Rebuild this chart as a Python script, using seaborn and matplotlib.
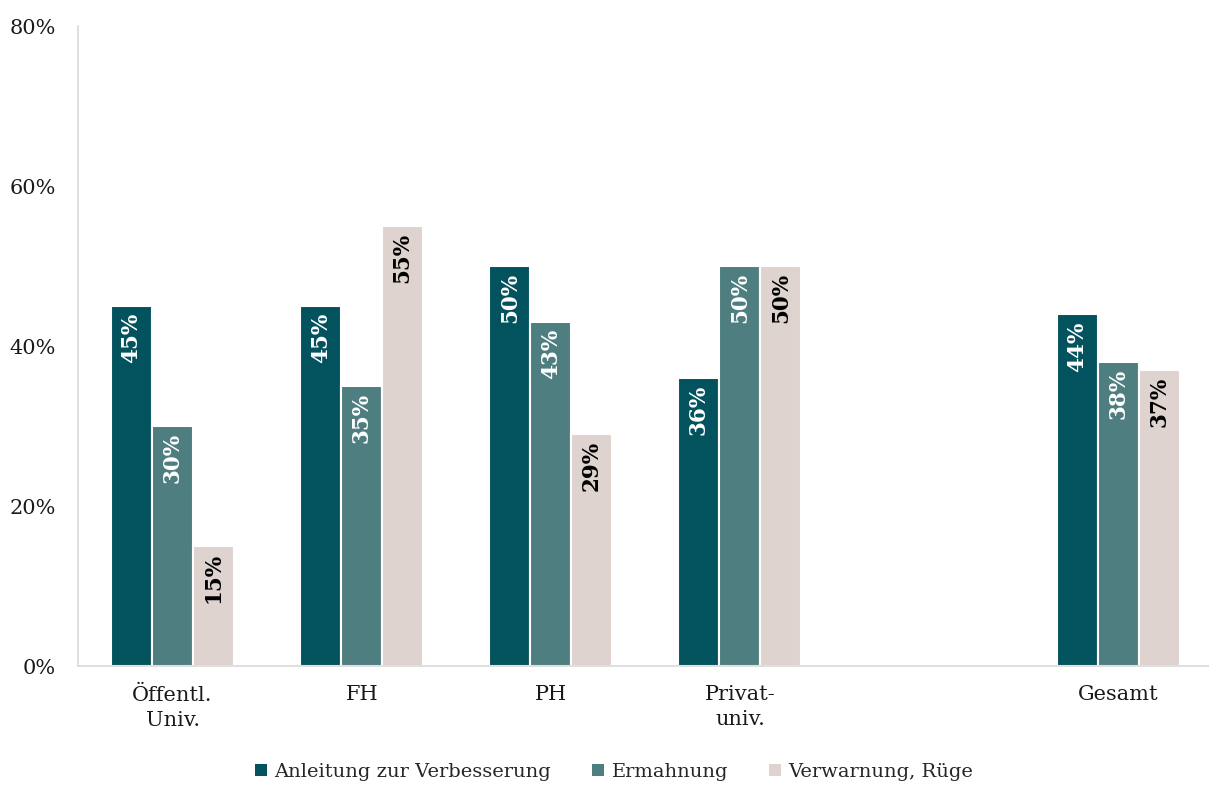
import pandas as pd
import numpy as np
import matplotlib.pyplot as plt
import seaborn as sns
from matplotlib.patches import Patch
from matplotlib.ticker import FuncFormatter

# data (percent)
categories = ["Öffentl.\nUniv.", "FH", "PH", "Privat-\nuniv.", " ", "Gesamt"]
series = ["Anleitung zur Verbesserung", "Ermahnung", "Verwarnung, Rüge"]
anleitung = [45, 45, 50, 36, np.nan, 44]
ermahnung = [30, 35, 43, 50, np.nan, 38]
verwarnung = [15, 55, 29, 50, np.nan, 37]
colors = ["#03535F", "#4E7E80", "#DED3CF"]
label_colors = ["white", "white", "black"]

rows = []
for name, vals in zip(series, [anleitung, ermahnung, verwarnung]):
    for cat, v in zip(categories, vals):
        rows.append({"Kategorie": cat, "Reaktion": name, "Wert": v})
df = pd.DataFrame(rows)

sns.set_style("white")
plt.rcParams['font.family'] = ['DejaVu Serif']

fig, ax = plt.subplots(figsize=(12.09, 7.87), dpi=100)
fig.subplots_adjust(left=78/1209, right=1.0, top=1-26/787, bottom=1-666/787)

sns.barplot(data=df, x="Kategorie", y="Wert", hue="Reaktion", order=categories,
            hue_order=series, palette=colors, width=0.65, edgecolor="white",
            linewidth=1.5, saturation=1, legend=False, ax=ax)

# value labels, rotated, inside the top of each bar
for cont, lc in zip(ax.containers, label_colors):
    for bar in cont:
        h = bar.get_height()
        if np.isnan(h) or h == 0:
            continue
        ax.text(bar.get_x() + bar.get_width() / 2, h - 0.9, f"{h:.0f}%",
                rotation=90, ha="center", va="top", color=lc,
                fontsize=15.5, fontweight="bold")

ax.set_ylim(0, 80)
ax.set_xlim(-0.5, 5.48)
ax.set_yticks([0, 20, 40, 60, 80])
ax.yaxis.set_major_formatter(FuncFormatter(lambda v, p: f"{v:.0f}%"))
ax.tick_params(axis="both", length=0, labelsize=15, colors="#1a1a1a")
ax.tick_params(axis="y", pad=16)
ax.tick_params(axis="x", pad=14)
for lbl in ax.get_xticklabels():
    lbl.set_linespacing(1.4)
ax.set_xlabel("")
ax.set_ylabel("")
for s in ["top", "right"]:
    ax.spines[s].set_visible(False)
for s in ["left", "bottom"]:
    ax.spines[s].set_color("#d9d9d9")
    ax.spines[s].set_linewidth(1.2)

handles = [Patch(facecolor=c, edgecolor="none") for c in colors]
fig.legend(handles, series, loc="center", bbox_to_anchor=(0.508, 15/787), ncol=3,
           frameon=False, fontsize=14, handlelength=0.6, handleheight=0.6,
           handletextpad=0.4, columnspacing=2.1)

fig.savefig("out.png", dpi=100)
